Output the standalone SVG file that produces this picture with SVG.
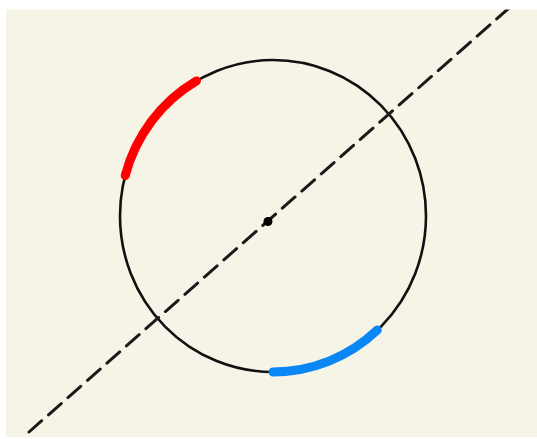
<svg xmlns="http://www.w3.org/2000/svg" width="537" height="439" viewBox="0 0 537 439">
  <style>
    .circ { fill: none; stroke: #111; stroke-width: 2.6; }
    .arc { fill: none; stroke-width: 9; stroke-linecap: round; }
    .axis { stroke: #1a1a1a; stroke-width: 3; stroke-dasharray: 17 9; stroke-linecap: round; fill: none; }
  </style>
  <defs>
    <clipPath id="bgclip"><rect x="6" y="9.5" width="531" height="427.5"/></clipPath>
  </defs>
  <rect x="0" y="0" width="537" height="439" fill="#ffffff"/>
  <rect id="background" x="6" y="9.5" width="531" height="427.5" fill="#f6f3e7"/>
  <g id="circle">
    <ellipse class="circ" cx="273" cy="216" rx="153" ry="156"/>
  </g>
  <g id="red-arc">
    <path class="arc" stroke="#ff0000" d="M 125.2 175.6 A 153 156 0 0 1 196.5 80.9"/>
  </g>
  <g id="blue-arc">
    <path class="arc" stroke="#0a87f5" d="M 377.3 330.1 A 153 156 0 0 1 273 372"/>
  </g>
  <g id="connectors" clip-path="url(#bgclip)">
    <line class="axis" x1="29" y1="432" x2="520" y2="-1.7"/>
  </g>
  <g id="center">
    <circle cx="268" cy="221.5" r="4.5" fill="#000"/>
  </g>
</svg>
